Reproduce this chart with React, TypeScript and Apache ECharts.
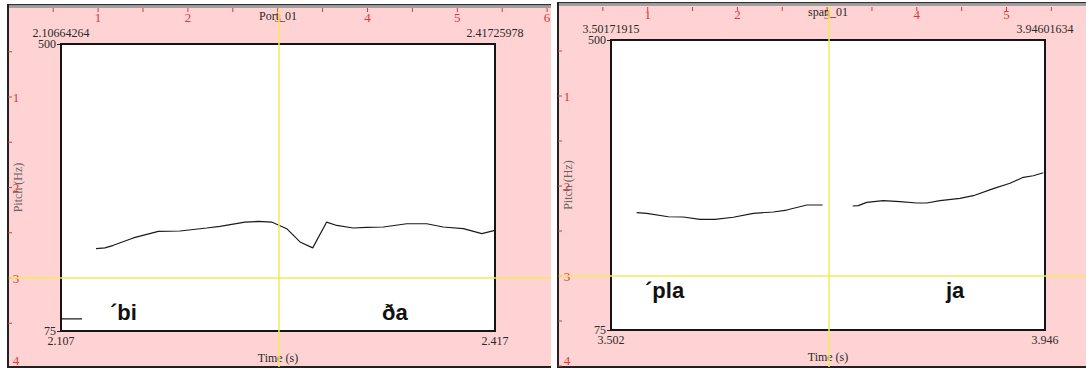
import React, { useEffect, useRef } from "react";
import * as echarts from "echarts";

// ---------- data ----------
const leftTitle = "Port_01";
const rightTitle = "span_01";
const leftTimeRange = [2.10664264, 2.41725978];
const rightTimeRange = [3.50171915, 3.94601634];
const pitchRange = [75, 500];

const leftTimes = [2.1317, 2.1381, 2.1441, 2.1584, 2.1763, 2.1918, 2.2109, 2.2204, 2.2383, 2.2479, 2.2574, 2.2682, 2.2777, 2.2868, 2.2968, 2.304, 2.3158, 2.3254, 2.3373, 2.3541, 2.3684, 2.3802, 2.3946, 2.4078, 2.4172];
const leftPitch = [197.1, 198.1, 201.9, 212.8, 222.5, 223.1, 227.5, 229.9, 236.3, 237.2, 236.3, 226.5, 206.9, 198.1, 236.3, 231.3, 227.5, 228.4, 229.0, 233.8, 233.8, 229.0, 226.5, 219.1, 224.0];
const leftLowTimes = [2.1073, 2.1217];
const leftLowPitch = [93, 93];

const rightTimesA = [3.528, 3.5383, 3.5604, 3.5757, 3.5928, 3.6082, 3.6269, 3.6474, 3.6679, 3.6816, 3.7021, 3.7184];
const rightPitchA = [246.9, 246.0, 241.0, 240.6, 237.2, 237.2, 240.2, 246.0, 247.9, 250.8, 258.2, 258.2];
const rightTimesB = [3.7492, 3.7549, 3.7635, 3.7805, 3.7976, 3.8147, 3.8249, 3.8385, 3.859, 3.8726, 3.8931, 3.9102, 3.9238, 3.934, 3.9443];
const rightPitchB = [256.7, 257.2, 262.1, 264.5, 263.0, 261.1, 261.1, 264.5, 268.0, 271.8, 282.1, 290.0, 298.8, 301.1, 305.5];

const rulerTopLabels = ["1", "2", "3", "4", "5", "6"];
const rulerSideLabels = ["1", "2", "3", "4"];
const leftSyllables = ["\u00b4bi", "\u00f0a"];
const rightSyllables = ["\u00b4pla", "ja"];
const xAxisName = "Time (s)";
const yAxisName = "Pitch (Hz)";

// ---------- layout ----------
const W = 1086;
const H = 369;
const serif = "'Liberation Serif', 'Times New Roman', serif";
const pink = "#ffd3d3";
const rulerRed = "#d83a3a";
const yellow = "#f3ea5a";

const panels = [
  {
    x0: 7, x1: 551, top: 4, bottom: 368,
    ox: 8.3, sx: 89.8, oy: 6.5, sy: 90.5,
    topTickY: 8, topNumY: 17, sideNumX: 16,
    cursorX: 279, cursorY: 278,
    grid: { left: 61, top: 44, width: 434, height: 289 },
    syll: [ { x: 110, y: 312 }, { x: 382, y: 312 } ],
  },
  {
    x0: 557, x1: 1086, top: 2, bottom: 368,
    ox: 558, sx: 89.7, oy: 6, sy: 90,
    topTickY: 7, topNumY: 14, sideNumX: 567,
    cursorX: 829, cursorY: 276,
    grid: { left: 611, top: 40, width: 434, height: 290 },
    syll: [ { x: 645, y: 290 }, { x: 946, y: 290 } ],
  },
];

function zip(xs: number[], ys: number[]) {
  return xs.map((x, i) => [x, ys[i]]);
}

function panelGraphics(p: any, syllables: string[]) {
  const els: any[] = [];
  const w = p.x1 - p.x0;
  // pink background + frame
  els.push({ type: "rect", z: -20, shape: { x: p.x0, y: p.top, width: w, height: p.bottom - p.top }, style: { fill: pink } });
  els.push({ type: "rect", z: -19, shape: { x: p.x0, y: p.top, width: w, height: 1.5 }, style: { fill: "#333" } });
  els.push({ type: "rect", z: -19, shape: { x: p.x0, y: p.top + 1.5, width: w, height: 2.5 }, style: { fill: "#a0a0a0" } });
  els.push({ type: "rect", z: -19, shape: { x: p.x0, y: p.top, width: 2, height: p.bottom - p.top }, style: { fill: "#222" } });
  els.push({ type: "rect", z: -19, shape: { x: p.x0, y: p.bottom - 2, width: w, height: 2 }, style: { fill: "#222" } });
  // top ruler
  for (let k = 0; k <= 12; k++) {
    const x = p.ox + (k / 2) * p.sx;
    if (x > p.x1 - 1 || x < p.x0 + 3) continue;
    els.push({ type: "line", z: -18, shape: { x1: x, y1: p.topTickY, x2: x, y2: p.topTickY + 4 }, style: { stroke: rulerRed, lineWidth: 1 } });
  }
  rulerTopLabels.forEach((t, i) => {
    const x = p.ox + (i + 1) * p.sx;
    if (x > p.x1 + 4) return;
    els.push({ type: "text", z: -18, x, y: p.topNumY, style: { text: t, fill: rulerRed, font: `13px ${serif}`, align: "center", verticalAlign: "middle" } });
  });
  // side ruler
  for (let k = 1; k <= 8; k++) {
    const y = p.oy + (k / 2) * p.sy;
    if (y > p.bottom) continue;
    els.push({ type: "line", z: -18, shape: { x1: p.x0 + 1, y1: y, x2: p.x0 + 5, y2: y }, style: { stroke: rulerRed, lineWidth: 1 } });
  }
  rulerSideLabels.forEach((t, i) => {
    const y = Math.min(p.oy + (i + 1) * p.sy, p.bottom - 8);
    els.push({ type: "text", z: -18, x: p.sideNumX, y, style: { text: t, fill: rulerRed, font: `13px ${serif}`, align: "center", verticalAlign: "middle" } });
  });
  // yellow cursor lines
  els.push({ type: "line", z: 10, shape: { x1: p.cursorX, y1: p.top + 4, x2: p.cursorX, y2: p.bottom - 1 }, style: { stroke: yellow, lineWidth: 1.5 } });
  els.push({ type: "line", z: 10, shape: { x1: p.x0 + 2, y1: p.cursorY, x2: p.x1, y2: p.cursorY }, style: { stroke: yellow, lineWidth: 1.5 } });
  // syllable annotations
  syllables.forEach((s, i) => {
    els.push({ type: "text", z: 11, x: p.syll[i].x, y: p.syll[i].y, style: { text: s, fill: "#111", font: `bold 22px 'Liberation Sans', Arial, sans-serif`, align: "left", verticalAlign: "middle" } });
  });
  return els;
}

const labelStyle = { color: "#2a2a2a", fontFamily: serif, fontSize: 12 };

function bottomAxis(gridIndex: number, range: number[]) {
  return {
    type: "value", gridIndex, position: "bottom", min: range[0], max: range[1],
    axisLine: { show: false }, splitLine: { show: false }, axisTick: { show: false },
    axisLabel: { ...labelStyle, customValues: range, formatter: (v: number) => v.toFixed(3), margin: 4, alignMinLabel: "center", alignMaxLabel: "center" },
    name: xAxisName, nameLocation: "middle", nameGap: 21, nameTextStyle: { ...labelStyle },
  };
}
function topAxis(gridIndex: number, range: number[], title: string) {
  return {
    type: "value", gridIndex, position: "top", min: range[0], max: range[1],
    axisLine: { show: false }, splitLine: { show: false }, axisTick: { show: false },
    axisLabel: { ...labelStyle, customValues: range, formatter: (v: number) => v.toFixed(8), margin: 5, alignMinLabel: "center", alignMaxLabel: "center" },
    name: title, nameLocation: "middle", nameGap: 21, nameTextStyle: { ...labelStyle },
  };
}
function leftAxis(gridIndex: number) {
  return {
    type: "value", gridIndex, min: pitchRange[0], max: pitchRange[1],
    axisLine: { show: false }, splitLine: { show: false },
    axisTick: { show: true, customValues: pitchRange, length: 4, lineStyle: { color: "#222", width: 1 } },
    axisLabel: { ...labelStyle, customValues: pitchRange, margin: 5 },
    name: yAxisName, nameLocation: "middle", nameGap: 37, nameTextStyle: { ...labelStyle, color: "#666" },
  };
}

const lineSeries = (xAxisIndex: number, yAxisIndex: number, data: number[][]) => ({
  type: "line", xAxisIndex, yAxisIndex, data, showSymbol: false, silent: true,
  lineStyle: { color: "#1a1a1a", width: 1.2 }, z: 5,
});

export default function App() {
  const ref = useRef<HTMLDivElement>(null);
  useEffect(() => {
    if (!ref.current) return;
    const chart = echarts.init(ref.current, undefined, { renderer: "svg", width: W, height: H });
    const gridStyle = { show: true, z: 1, backgroundColor: "#ffffff", borderColor: "#151515", borderWidth: 2, containLabel: false };
    chart.setOption({
      animation: false,
      backgroundColor: "#ffffff",
      grid: panels.map((p) => ({ ...gridStyle, ...p.grid })),
      xAxis: [
        bottomAxis(0, leftTimeRange),
        topAxis(0, leftTimeRange, leftTitle),
        bottomAxis(1, rightTimeRange),
        topAxis(1, rightTimeRange, rightTitle),
      ],
      yAxis: [leftAxis(0), leftAxis(1)],
      series: [
        lineSeries(0, 0, zip(leftTimes, leftPitch)),
        lineSeries(0, 0, zip(leftLowTimes, leftLowPitch)),
        lineSeries(2, 1, zip(rightTimesA, rightPitchA)),
        lineSeries(2, 1, zip(rightTimesB, rightPitchB)),
      ],
      graphic: { elements: [...panelGraphics(panels[0], leftSyllables), ...panelGraphics(panels[1], rightSyllables)] },
    });
    return () => chart.dispose();
  }, []);
  return (
    <div style={{ position: "absolute", left: 0, top: 0, width: W, height: H, background: "#fff" }}>
      <div ref={ref} style={{ width: W, height: H }} />
    </div>
  );
}
